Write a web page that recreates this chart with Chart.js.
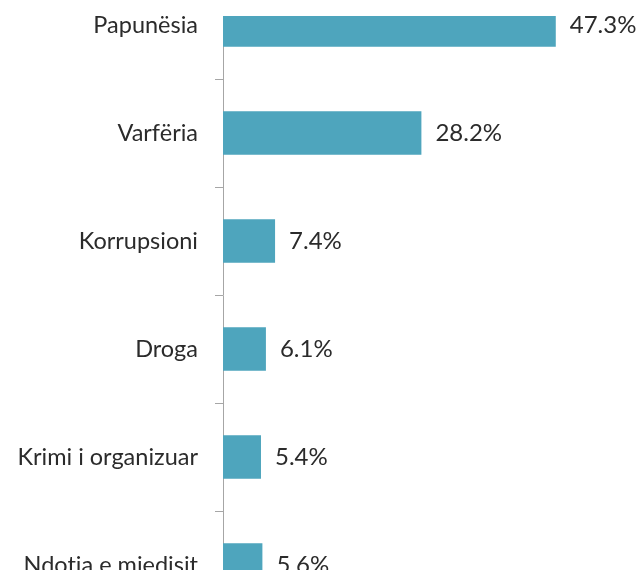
<!DOCTYPE html>
<html>
<head>
<meta charset="utf-8">
<script src="https://cdn.jsdelivr.net/npm/chart.js@4"></script>
<style>
  html, body { margin: 0; padding: 0; background: #fff; overflow: hidden; }
  #wrap { position: relative; width: 641px; height: 570px; overflow: hidden; }
  #chart { position: absolute; left: 0; top: -29px; }
</style>
</head>
<body>
<div id="wrap"><canvas id="chart" width="641" height="648"></canvas></div>
<script>
const categories = ['Papunësia', 'Varfëria', 'Korrupsioni', 'Droga', 'Krimi i organizuar', 'Ndotja e mjedisit'];
const shares = [47.3, 28.2, 7.4, 6.1, 5.4, 5.6];

const FONT = "Lato, 'Open Sans', sans-serif";
const TEXT = '#2b2b2b';
const AXIS = '#a6a6a6';
const VISIBLE_TOP = 16; // page y where the plot starts (top of the picture is cut)
const CANVAS_TOP = -29;

// value labels to the right of each bar
const valueLabels = {
  id: 'valueLabels',
  afterDatasetsDraw(chart) {
    const ctx = chart.ctx;
    const meta = chart.getDatasetMeta(0);
    ctx.save();
    ctx.font = '24px ' + FONT;
    ctx.fillStyle = TEXT;
    ctx.textAlign = 'left';
    ctx.textBaseline = 'middle';
    meta.data.forEach((bar, i) => {
      ctx.fillText(shares[i].toFixed(1) + '%', bar.x + 14, bar.y);
    });
    ctx.restore();
  },
  afterDraw(chart) {
    // blank the part of the plot above the visible top edge
    const ctx = chart.ctx;
    const a = chart.chartArea;
    ctx.save();
    ctx.fillStyle = '#fff';
    ctx.fillRect(a.left - 10, 0, a.right - a.left + 10, VISIBLE_TOP - CANVAS_TOP);
    ctx.restore();
  },
};

new Chart(document.getElementById('chart').getContext('2d'), {
  type: 'bar',
  data: {
    labels: categories,
    datasets: [{
      data: shares,
      backgroundColor: '#4ea5bd',
      borderWidth: 0,
      categoryPercentage: 1,
      barPercentage: 0.405,
    }],
  },
  options: {
    indexAxis: 'y',
    responsive: false,
    animation: false,
    layout: { padding: { left: 0, right: 81, top: 0, bottom: 0 } },
    plugins: {
      legend: { display: false },
      tooltip: { enabled: false },
    },
    scales: {
      x: { display: false, min: 0, max: 47.9 },
      y: {
        afterFit(scale) {
          scale.width = 223;
          scale.paddingTop = 0;
          scale.paddingBottom = 0;
        },
        border: { color: AXIS, width: 1 },
        grid: { offset: true, drawOnChartArea: false, tickLength: 8, color: AXIS },
        ticks: { color: TEXT, padding: 17, font: { family: FONT, size: 23.5 } },
      },
    },
  },
  plugins: [valueLabels],
});
</script>
</body>
</html>
